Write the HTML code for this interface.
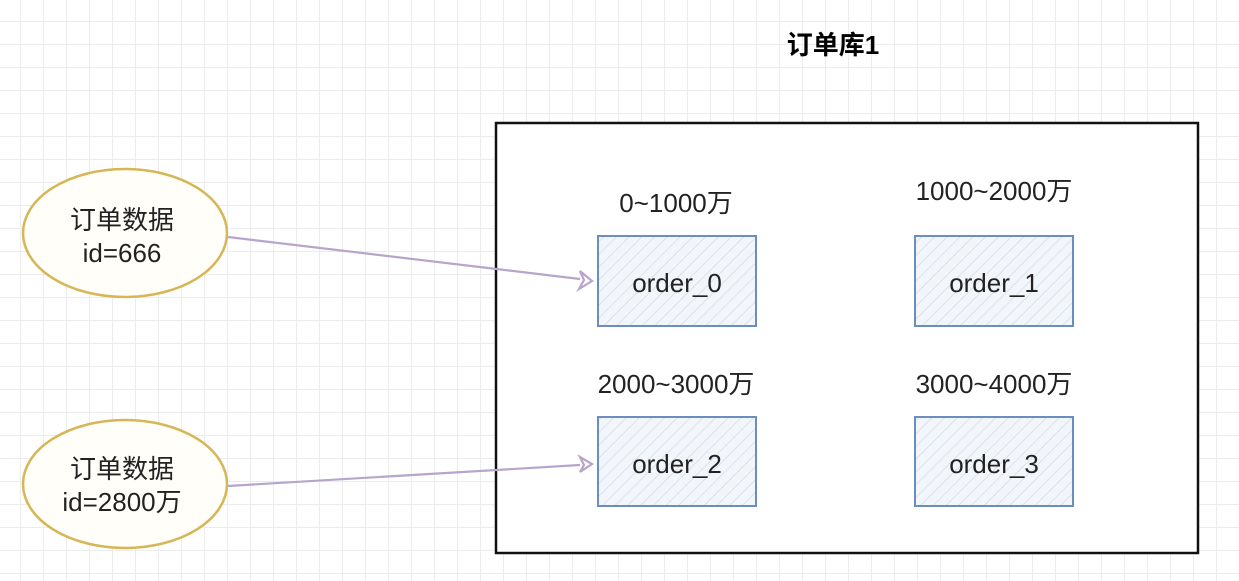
<!DOCTYPE html>
<html><head><meta charset="utf-8"><style>
html,body{margin:0;padding:0;}
body{width:1239px;height:581px;overflow:hidden;background:#fff;
background-image:linear-gradient(#ececec 1px,transparent 1px),linear-gradient(90deg,#ececec 1px,transparent 1px);
background-size:23px 23px;background-position:-3px -2px;}
svg{position:absolute;left:0;top:0}
</style></head><body>
<svg width="1239" height="581" xmlns="http://www.w3.org/2000/svg" font-family="Liberation Sans, Noto Sans CJK SC, sans-serif">
<defs>
<pattern id="h" width="9" height="9" patternUnits="userSpaceOnUse" patternTransform="rotate(45)">
<rect width="9" height="9" fill="#f2f6fb"/><line x1="0" y1="0" x2="0" y2="9" stroke="#c9d6e6" stroke-width="1.2"/>
</pattern>
</defs>
<text x="833" y="54" font-size="26" font-weight="bold" text-anchor="middle">订单库1</text>
<rect x="496" y="123" width="702" height="430" fill="#fff" stroke="#111" stroke-width="2.5"/>
<g fill="url(#h)" stroke="#6c8ebf" stroke-width="2">
<rect x="598" y="236" width="158" height="90"/>
<rect x="915" y="236" width="158" height="90"/>
<rect x="598" y="417" width="158" height="89"/>
<rect x="915" y="417" width="158" height="89"/>
</g>
<g font-size="26" text-anchor="middle" fill="#222">
<text x="676" y="212">0~1000万</text>
<text x="994" y="200">1000~2000万</text>
<text x="676" y="393">2000~3000万</text>
<text x="994" y="393">3000~4000万</text>
<text x="677" y="292">order_0</text>
<text x="994" y="292">order_1</text>
<text x="677" y="473">order_2</text>
<text x="994" y="473">order_3</text>
</g>
<g fill="#fffef8" stroke="#d6b656" stroke-width="2.5">
<ellipse cx="125" cy="233" rx="102" ry="64"/>
<ellipse cx="125" cy="484" rx="102" ry="64"/>
</g>
<g font-size="26" text-anchor="middle" fill="#222">
<text x="122" y="229">订单数据</text>
<text x="122" y="262">id=666</text>
<text x="122" y="478">订单数据</text>
<text x="122" y="511">id=2800万</text>
</g>
<g stroke="#b8a4cc" stroke-width="2.2" fill="#fff">
<line x1="228" y1="237" x2="580" y2="279"/>
<polygon points="580,271 592,281 579,289 584,280"/>
<line x1="228" y1="486" x2="580" y2="465"/>
<polygon points="580,457 592,464 580,472 584,465"/>
</g>
</svg>
</body></html>
